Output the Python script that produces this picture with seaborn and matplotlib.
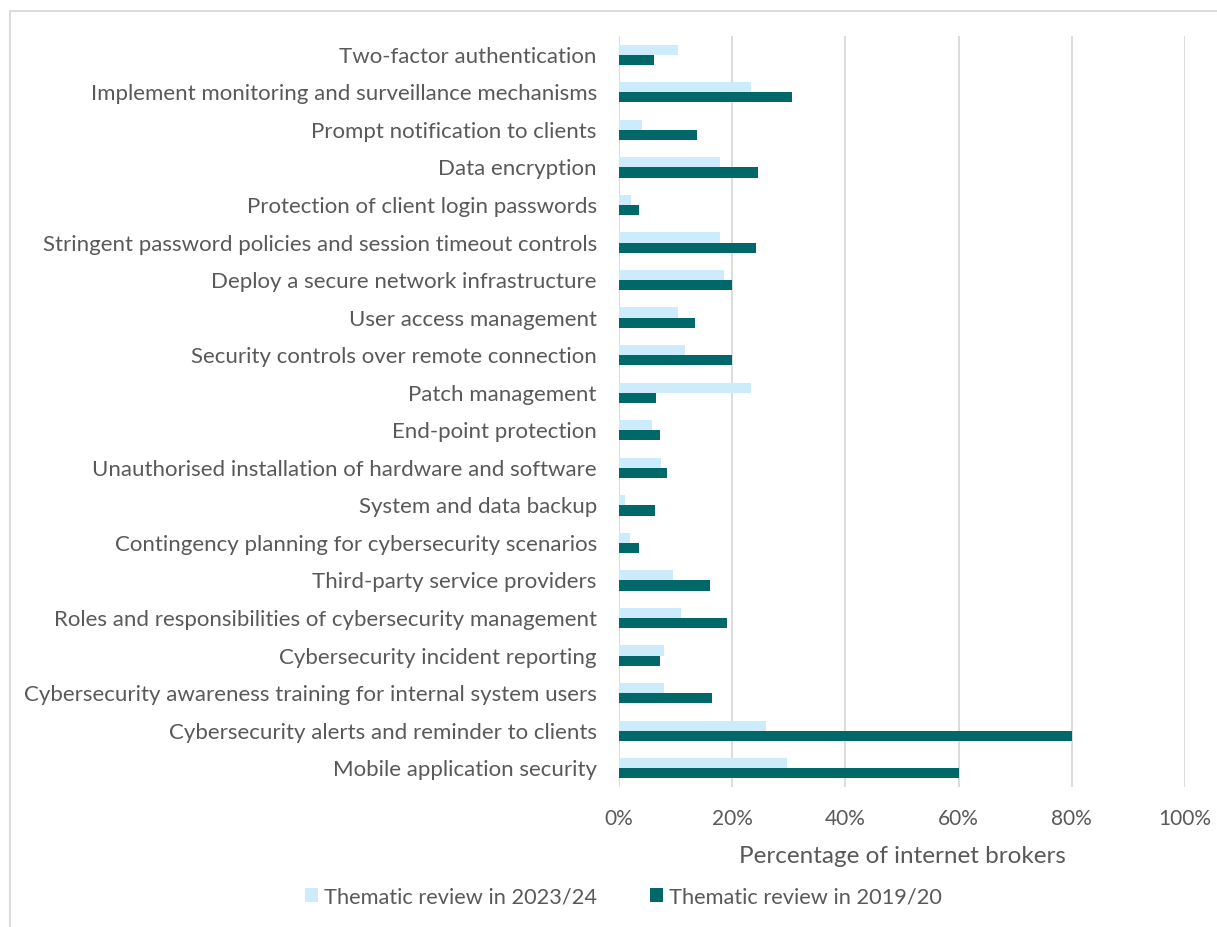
import matplotlib
matplotlib.use("Agg")
import matplotlib.pyplot as plt
import seaborn as sns
import pandas as pd
from matplotlib.patches import Rectangle
from matplotlib.ticker import PercentFormatter

categories = [
    "Two-factor authentication",
    "Implement monitoring and surveillance mechanisms",
    "Prompt notification to clients",
    "Data encryption",
    "Protection of client login passwords",
    "Stringent password policies and session timeout controls",
    "Deploy a secure network infrastructure",
    "User access management",
    "Security controls over remote connection",
    "Patch management",
    "End-point protection",
    "Unauthorised installation of hardware and software",
    "System and data backup",
    "Contingency planning for cybersecurity scenarios",
    "Third-party service providers",
    "Roles and responsibilities of cybersecurity management",
    "Cybersecurity incident reporting",
    "Cybersecurity awareness training for internal system users",
    "Cybersecurity alerts and reminder to clients",
    "Mobile application security",
]
review_2023 = [10.4, 23.4, 4.1, 17.8, 2.2, 17.8, 18.5, 10.4, 11.6, 23.4,
               5.9, 7.4, 1.0, 2.0, 9.6, 10.9, 8.0, 8.0, 26.0, 29.6]
review_2019 = [6.1, 30.5, 13.8, 24.5, 3.6, 24.2, 20.0, 13.4, 20.0, 6.6,
               7.3, 8.5, 6.4, 3.6, 16.0, 19.0, 7.3, 16.4, 80.0, 60.0]
series_names = ["Thematic review in 2023/24", "Thematic review in 2019/20"]
colors = ["#CCEBFB", "#006868"]

df = pd.DataFrame({
    "category": categories * 2,
    "value": review_2023 + review_2019,
    "series": [series_names[0]] * len(categories) + [series_names[1]] * len(categories),
})

sns.set_theme(style="white")
plt.rcParams["font.family"] = ["Lato", "DejaVu Sans"]
text_color = "#595959"

fig = plt.figure(figsize=(12.17, 9.27), dpi=100)
ax = fig.add_axes([619 / 1217, 1 - 787 / 927, (1185 - 619) / 1217, (787 - 36) / 927])

sns.barplot(data=df, x="value", y="category", hue="series", order=categories,
            hue_order=series_names, palette=colors, width=0.54, ax=ax,
            saturation=1, legend=True, edgecolor="none")

ax.set_xlim(0, 100)
ax.set_xticks([0, 20, 40, 60, 80, 100])
ax.xaxis.set_major_formatter(PercentFormatter(decimals=0))
ax.grid(axis="x", color="#D9D9D9", linewidth=1.3)
ax.set_axisbelow(True)
for s in ax.spines.values():
    s.set_visible(False)
ax.tick_params(axis="x", length=0, pad=16, labelsize=15, labelcolor=text_color)
ax.tick_params(axis="y", length=0, pad=16, labelsize=16, labelcolor=text_color)
ax.set_ylabel("")
ax.set_xlabel("Percentage of internet brokers", fontsize=17.5, color=text_color, labelpad=12)

leg = ax.legend(loc="center", bbox_to_anchor=(0.5 + 15 / 1217, 1 - 897 / 927),
                bbox_transform=fig.transFigure,
                ncol=2, frameon=False, fontsize=15.7, handlelength=0.6, handleheight=0.6,
                handletextpad=0.3, columnspacing=2.4, labelcolor=text_color)

fig.patches.append(Rectangle((10 / 1217, -0.05), 1.2, 1 - 11 / 927 + 0.05,
                             transform=fig.transFigure, fill=False,
                             edgecolor="#D9D9D9", linewidth=1.3))

fig.savefig("out.png", dpi=100)
